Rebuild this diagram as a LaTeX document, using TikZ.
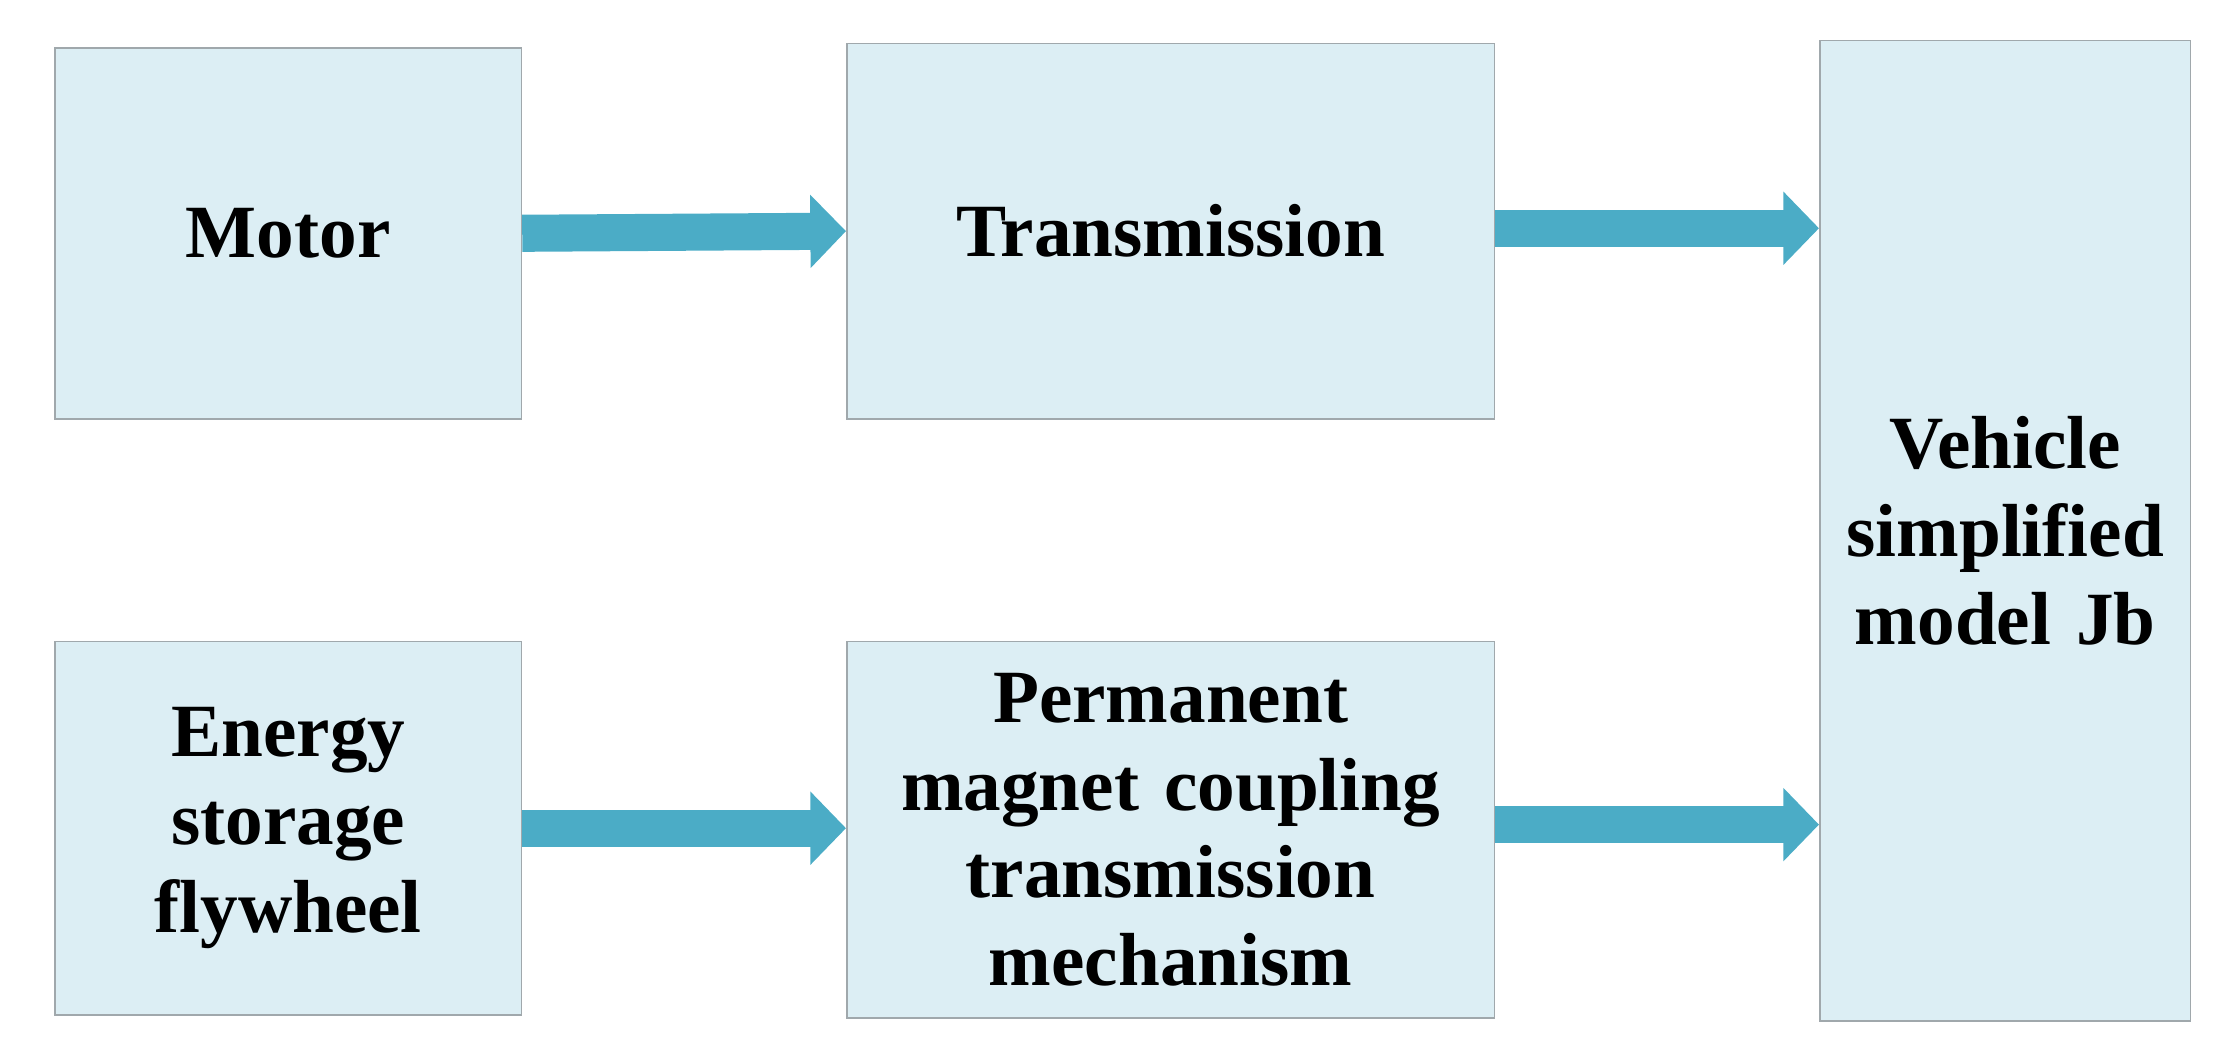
\documentclass[tikz,border=0pt]{standalone}
\usepackage{fontspec}
\setmainfont{Liberation Serif}
\usetikzlibrary{arrows.meta}
\definecolor{boxfill}{HTML}{DCEEF4}
\definecolor{boxline}{HTML}{A0A8AC}
\definecolor{arr}{HTML}{4BACC6}
\begin{document}
\begin{tikzpicture}[x=0.02cm,y=-0.02cm,
  box/.style={draw=boxline,fill=boxfill,line width=0.6pt,inner sep=0pt,anchor=north west,
    align=center,font=\fontsize{30}{35}\selectfont\bfseries},
  flow/.style={draw=arr,line width=0.52cm,-{Triangle[length=0.5cm,width=1.0cm]},shorten >=0pt}]
\useasboundingbox (0,0) rectangle (1568,742);
\node[box,minimum width=0.02cm*327,minimum height=0.02cm*260] (motor) at (38,33) {Motor};
\node[box,minimum width=0.02cm*454,minimum height=0.02cm*263] (trans) at (593,30) {Transmission};
\node[box,minimum width=0.02cm*260,minimum height=0.02cm*687,text width=0.02cm*250] (veh) at (1275,28) {Vehicle\\simplified\\model Jb};
\node[box,minimum width=0.02cm*327,minimum height=0.02cm*262,text width=0.02cm*300] (fly) at (38,449) {Energy\\storage\\flywheel};
\node[box,minimum width=0.02cm*454,minimum height=0.02cm*264,text width=0.02cm*440] (pm) at (593,449) {Permanent\\magnet coupling\\transmission\\mechanism};
\coordinate (v1) at (veh.west |- 0,160);
\coordinate (v2) at (veh.west |- 0,578);
\draw[flow] (motor.east) -- (trans.west);
\draw[flow] (trans.east |- v1) -- (v1);
\draw[flow] (fly.east) -- (pm.west |- fly.east);
\draw[flow] (pm.east |- v2) -- (v2);
\end{tikzpicture}
\end{document}
